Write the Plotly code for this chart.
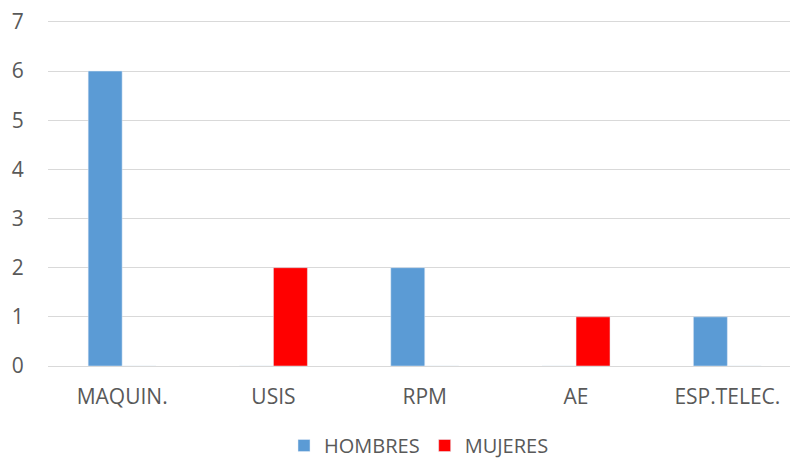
import plotly.graph_objects as go

categories = ["MAQUIN.", "USIS", "RPM", "AE", "ESP.TELEC."]
hombres = [6, 0, 2, 0, 1]
mujeres = [0, 2, 0, 1, 0]
y_ticks = [0, 1, 2, 3, 4, 5, 6, 7]

font = dict(family="Open Sans, Liberation Sans, sans-serif", size=21, color="#595959")
legend_font = dict(family="Open Sans, Liberation Sans, sans-serif", size=20, color="#595959")

fig = go.Figure()
fig.add_trace(go.Bar(x=categories, y=hombres, name="HOMBRES", marker=dict(color="#5B9BD5")))
fig.add_trace(go.Bar(x=categories, y=mujeres, name="MUJERES", marker=dict(color="#FF0000")))

fig.update_layout(
    width=795, height=459,
    margin=dict(l=48, r=5, t=17, b=93, autoexpand=False),
    paper_bgcolor="white", plot_bgcolor="white",
    barmode="group", bargap=0.551, bargroupgap=0,
    font=font,
    legend=dict(orientation="h", x=0.5, xanchor="center", y=-0.2837, yanchor="bottom",
                font=legend_font, itemwidth=30, tracegroupgap=0),
    xaxis=dict(range=[-0.49, 4.414], showgrid=False, showline=False, ticks="outside", ticklen=12,
               tickcolor="rgba(0,0,0,0)", tickfont=font, automargin=False),
    yaxis=dict(range=[0, 7.1], tickvals=y_ticks, showgrid=True, gridcolor="#D9D9D9", gridwidth=1.3,
               zeroline=True, zerolinecolor="#D9D9D9", zerolinewidth=1.3,
               ticks="outside", ticklen=19, tickcolor="rgba(0,0,0,0)", tickfont=font, automargin=False),
)

fig.write_html("out.html", config={"displayModeBar": False},
               post_script="document.body.style.margin='0';document.body.style.overflow='hidden';")
